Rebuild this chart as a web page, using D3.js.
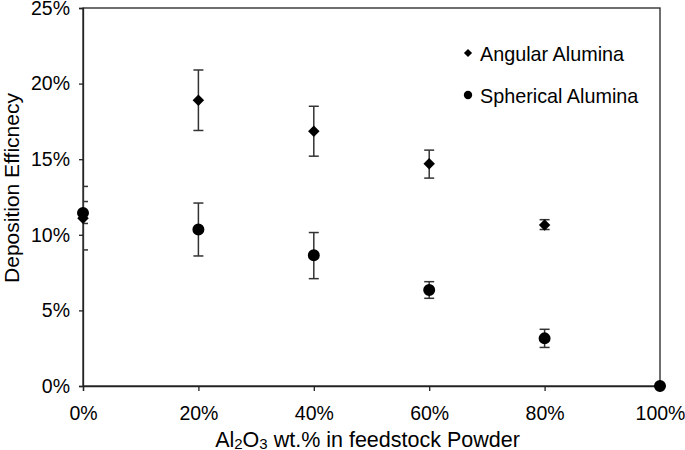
<!DOCTYPE html>
<html>
<head>
<meta charset="utf-8">
<script src="https://cdn.jsdelivr.net/npm/d3@7"></script>
<style>
  body { margin: 0; background: #fff; }
  text { font-family: "Liberation Sans", Arial, sans-serif; fill: #000; }
</style>
</head>
<body>
<svg id="chart"></svg>
<script>
var width = 685, height = 450
var margin = {top: 8, right: 25, bottom: 64, left: 83}

// Al2O3 content (%) and deposition efficiency (%) with error bar limits
var alumina = [0, 20, 40, 60, 80, 100]
var angular = [11.1, 18.9, 16.85, 14.7, 10.65, 0]
var angularHi = [13.2, 20.9, 18.5, 15.6, 11.0, 0]
var angularLo = [9.0, 16.9, 15.2, 13.75, 10.35, 0]
var spherical = [11.45, 10.35, 8.65, 6.35, 3.15, 0]
var sphericalHi = [12.2, 12.1, 10.15, 6.9, 3.75, 0]
var sphericalLo = [10.75, 8.6, 7.1, 5.8, 2.55, 0]
var xTicks = [0, 20, 40, 60, 80, 100]
var yTicks = [0, 5, 10, 15, 20, 25]
var seriesNames = ["Angular Alumina", "Spherical Alumina"]

var svg = d3.select("#chart")
    .attr("width", width)
    .attr("height", height)

var w = width - margin.left - margin.right,
    h = height - margin.top - margin.bottom

var g = svg.append("g")
    .attr("transform", "translate(" + margin.left + "," + margin.top + ")")

var x = d3.scaleLinear().domain([0, 100]).range([0, w])
var y = d3.scaleLinear().domain([0, 25]).range([h, 0])

g.append("clipPath").attr("id", "plot")
    .append("rect").attr("width", w).attr("height", h)

// box
g.append("rect")
    .attr("width", w).attr("height", h)
    .attr("fill", "none")
    .attr("stroke", "#222")
    .attr("stroke-width", 1.3)

var xAxis = g.append("g")
    .attr("transform", "translate(0," + h + ")")
    .call(d3.axisBottom(x).tickValues(xTicks).tickSize(5).tickPadding(10)
        .tickFormat(d => d + "%"))
var yAxis = g.append("g")
    .call(d3.axisLeft(y).tickValues(yTicks).tickSize(4).tickPadding(9)
        .tickFormat(d => d + "%"))

;[xAxis, yAxis].forEach(a => {
    a.select(".domain").attr("stroke", "#222").attr("stroke-width", 1.3)
    a.selectAll(".tick line").attr("stroke", "#222").attr("stroke-width", 1.3)
    a.selectAll(".tick text")
        .style("font-family", '"Liberation Sans", Arial, sans-serif')
        .style("font-size", "19.5px")
        .attr("fill", "#000")
})
xAxis.selectAll(".tick text").attr("dy", "0.95em")

// error bars
var bars = g.append("g").attr("clip-path", "url(#plot)")
function errorBars(hi, lo) {
    alumina.forEach((d, i) => {
        if (hi[i] == lo[i]) return
        var cx = x(d)
        bars.append("line")
            .attr("x1", cx).attr("x2", cx)
            .attr("y1", y(hi[i])).attr("y2", y(lo[i]))
        ;[hi[i], lo[i]].forEach(v => {
            bars.append("line")
                .attr("x1", cx - 5).attr("x2", cx + 5)
                .attr("y1", y(v)).attr("y2", y(v))
        })
    })
}
errorBars(angularHi, angularLo)
errorBars(sphericalHi, sphericalLo)
bars.selectAll("line").attr("stroke", "#333").attr("stroke-width", 1.5)

var diamond = d3.symbol().type(d3.symbolSquare).size(66)
var circle = d3.symbol().type(d3.symbolCircle).size(113)

g.selectAll(".angular")
    .data(alumina)
    .join("path")
    .attr("class", "angular")
    .attr("d", diamond)
    .attr("transform", (d, i) => "translate(" + x(d) + "," + y(angular[i]) + ") rotate(45)")
    .attr("fill", "#000")

g.selectAll(".spherical")
    .data(alumina)
    .join("path")
    .attr("class", "spherical")
    .attr("d", circle)
    .attr("transform", (d, i) => "translate(" + x(d) + "," + y(spherical[i]) + ")")
    .attr("fill", "#000")

// legend
var legend = svg.append("g")
seriesNames.forEach((name, i) => {
    var ly = 53 + i * 42
    legend.append("path")
        .attr("d", i == 0 ? d3.symbol().type(d3.symbolSquare).size(34)() : d3.symbol().type(d3.symbolCircle).size(55)())
        .attr("transform", "translate(468," + ly + ")" + (i == 0 ? " rotate(45)" : ""))
        .attr("fill", "#000")
    legend.append("text")
        .attr("x", 480)
        .attr("y", ly + 7.5)
        .style("font-size", "19.8px")
        .text(name)
})

// axis titles
var xt = svg.append("text")
    .attr("x", 367.5)
    .attr("y", 447)
    .attr("text-anchor", "middle")
    .style("font-size", "21.5px")
xt.append("tspan").text("Al")
xt.append("tspan").text("2").attr("dy", 1.5).style("font-size", "15px")
xt.append("tspan").text("O").attr("dy", -1.5)
xt.append("tspan").text("3").attr("dy", 1.5).style("font-size", "15px")
xt.append("tspan").text(" wt.% in feedstock Powder").attr("dy", -1.5)

svg.append("text")
    .attr("transform", "translate(18.5,188) rotate(-90)")
    .attr("text-anchor", "middle")
    .style("font-size", "21px")
    .text("Deposition Efficnecy")
</script>
</body>
</html>
